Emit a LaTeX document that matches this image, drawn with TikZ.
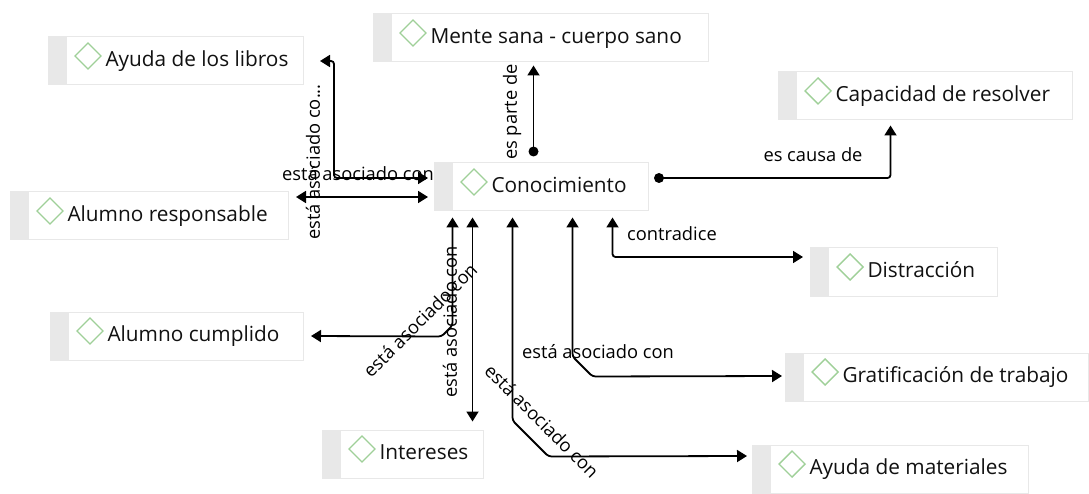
\documentclass[tikz,border=0pt]{standalone}
\usepackage{fontspec}
\setmainfont{Open Sans}
\usetikzlibrary{arrows.meta,calc}
\definecolor{boxline}{HTML}{E8E8E8}
\definecolor{stripc}{HTML}{E8E8E8}
\definecolor{dmdc}{HTML}{9FD098}
\definecolor{txtc}{HTML}{111111}
\tikzset{
  cbox/.style={draw=boxline, line width=1pt, fill=white, minimum height=48, inner sep=0pt,
    anchor=west, font=\fontsize{20.8pt}{24pt}\selectfont, text=txtc, text height=15pt, text depth=4pt,
    path picture={\fill[stripc] (path picture bounding box.north west) rectangle ([xshift=18pt]path picture bounding box.south west);}},
  dmd/.style={draw=dmdc, line width=1.4pt},
  conn/.style={line width=1.8pt, draw=black, rounded corners=3pt},
  bi/.style={conn, {Triangle[length=10pt,width=12pt]}-{Triangle[length=10pt,width=12pt]}},
  one/.style={conn, -{Triangle[length=10pt,width=12pt]}},
  lbl/.style={font=\fontsize{18.3pt}{22pt}\selectfont, text=black, inner sep=0pt},
}
\newcommand\concept[4]{%
  \node[cbox] (#1) at (#2) {\makebox[#3pt][l]{\hspace*{57pt}#4}};
  \draw[dmd] ($(#1.west)+(40,-5)$) ++(-13,0) -- ++(13,-13) -- ++(13,13) -- ++(-13,13) -- cycle;
}
\begin{document}
\begin{tikzpicture}[x=1pt,y=-1pt]
\fill[white] (0,0) rectangle (1089,494);
\useasboundingbox (0,0) rectangle (1089,494);

% concepts
\concept{libros}{48,61}{255}{Ayuda de los libros}
\concept{mente}{373,38}{335}{Mente sana - cuerpo sano}
\concept{capacidad}{778,96}{294}{Capacidad de resolver}
\concept{con}{434,187}{214}{Conocimiento}
\concept{resp}{10,216}{278}{Alumno responsable}
\concept{distr}{810,272}{187}{Distracción}
\concept{cumpl}{50,336}{253}{Alumno cumplido}
\concept{grat}{785,377}{303}{Gratificación de trabajo}
\concept{inter}{322,454}{161}{Intereses}
\concept{mater}{752,469}{276}{Ayuda de materiales}

% connectors
\draw[bi] ($(con.west)+(-6,-9)$) -| ($(libros.east)+(30,0)$) -- ($(libros.east)+(16,0)$);
\draw[bi] ($(con.west)+(-6,10)$) -- ($(resp.east)+(7,-19)$);
\draw[one] ($(con.north)+(-8,-11)$) -- ($(mente.south)+(-7.5,3)$);
\fill ($(con.north)+(-8,-11)$) circle (5pt);
\draw[one] ($(con.east)+(10,-9)$) -| ($(capacidad.south)+(-35,5)$);
\fill ($(con.east)+(10,-9)$) circle (5pt);
\draw[bi] ($(con.south)+(71,6)$) |- ($(distr.west)+(-7,-15)$);
\draw[bi] ($(con.south)+(31,6)$) -- ++(0,139) -- ++(20,20) -- ($(grat.west)+(-3,-1)$);
\draw[bi] ($(con.south)+(-29,6)$) -- ++(0,203) -- ++(36,36) -- ($(mater.west)+(-5,-13)$);
\draw[bi] ($(con.south)+(-69,6)$) -- ($(inter.north)+(69.5,-8)$);
\draw[bi] ($(con.south)+(-89,6)$) -- ++(0,108) -- ++(-11,11) -- ($(cumpl.east)+(7,0)$);

% labels
\node[lbl] (l1) at (358,174) {está asociado con};
\node[lbl, rotate=90] (l2) at (313,162) {está asociado co...};
\node[lbl, rotate=90] (l3) at (512,112) {es parte de};
\node[lbl] (l4) at (813,155) {es causa de};
\node[lbl] (l5) at (672,234) {contradice};
\node[lbl] (l6) at (598,352) {está asociado con};
\node[lbl, rotate=90] (l7) at (450,322) {está asociado con};
\node[lbl, rotate=45] (l8) at (420,320) {está asociado con};
\node[lbl, rotate=-45] (l9) at (542,421) {está asociado con};
\end{tikzpicture}
\end{document}
